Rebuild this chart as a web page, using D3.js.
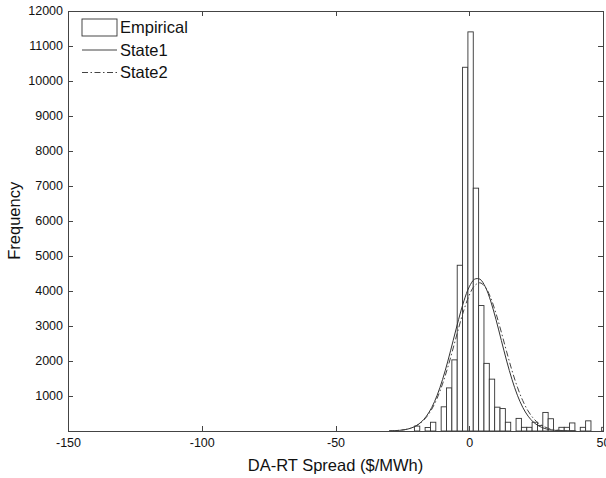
<!DOCTYPE html>
<html>
<head>
<meta charset="utf-8">
<script src="https://cdn.jsdelivr.net/npm/d3@7/dist/d3.min.js"></script>
<style>
  html, body { margin: 0; padding: 0; background: #fff; }
  svg { display: block; font-family: "Liberation Sans", Arial, Helvetica, sans-serif; }
</style>
</head>
<body>
<svg id="chart" width="606" height="478"></svg>
<script>
// ---- data ----
const binWidth = 2;
const binCenters = [-19.5, -17.5, -15.5, -13.5, -11.5, -9.5, -7.5, -5.5, -3.5, -1.5, 0.5, 2.5, 4.5, 6.5, 8.5, 10.5, 12.5, 14.5, 16.5, 18.5, 20.5, 22.5, 24.5, 26.5, 28.5, 30.5, 32.5, 34.5, 36.5, 38.5, 40.5, 42.5, 44.5, 46.5, 48.5, 50.5];
const counts     = [140, 0, 100, 250, 0, 690, 1230, 2030, 4730, 10380, 11390, 6930, 3580, 1930, 1480, 680, 640, 250, 0, 360, 105, 105, 250, 160, 530, 350, 0, 105, 105, 230, 0, 105, 290, 0, 0, 105];

const curveX  = [-30, -28, -26, -24, -22, -20, -18, -16, -14, -12, -10, -8, -6, -4, -2, 0, 2, 4, 6, 8, 10, 12, 14, 16, 18, 20, 22, 24, 26, 28, 30, 32, 34, 36, 38, 40];
const state1Y = [4, 9, 19, 39, 77, 144, 253, 424, 674, 1020, 1465, 1996, 2584, 3179, 3711, 4114, 4332, 4332, 4114, 3711, 3179, 2584, 1996, 1465, 1020, 674, 424, 253, 144, 77, 39, 19, 9, 4, 2, 1];
const state2Y = [4, 9, 20, 40, 76, 138, 240, 397, 624, 937, 1340, 1824, 2368, 2930, 3452, 3876, 4148, 4229, 4108, 3803, 3354, 2819, 2257, 1722, 1252, 867, 572, 360, 216, 123, 67, 35, 17, 8, 4, 2];

const xTicks = [-150, -100, -50, 0, 50];
const xTickLabels = ["-150", "-100", "-50", "0", "50"];
const yTicks = [1000, 2000, 3000, 4000, 5000, 6000, 7000, 8000, 9000, 10000, 11000, 12000];
const legendLabels = ["Empirical", "State1", "State2"];
const xTitle = "DA-RT Spread ($/MWh)";
const yTitle = "Frequency";

// ---- layout ----
const svg = d3.select("#chart");
const L = 68, R = 603, T = 10.5, B = 431;
const x = d3.scaleLinear().domain([-150, 50]).range([L, R]);
const y = d3.scaleLinear().domain([0, 12000]).range([B, T]);
const axisColor = "#444";

svg.append("defs").append("clipPath").attr("id", "plotclip")
  .append("rect").attr("x", L).attr("y", T).attr("width", R - L).attr("height", B - T);

// bars
const plot = svg.append("g").attr("clip-path", "url(#plotclip)");
plot.selectAll("rect.bar").data(binCenters.map((c, i) => ({c, v: counts[i]})))
  .join("rect").attr("class", "bar")
  .attr("x", d => x(d.c - binWidth / 2))
  .attr("width", d => x(d.c + binWidth / 2) - x(d.c - binWidth / 2))
  .attr("y", d => y(d.v))
  .attr("height", d => y(0) - y(d.v))
  .attr("fill", "#fff")
  .attr("stroke", "#333")
  .attr("stroke-width", 0.9);

// curves
const line = d3.line().x(d => x(d[0])).y(d => y(d[1])).curve(d3.curveCatmullRom);
plot.append("path").datum(curveX.map((v, i) => [v, state1Y[i]]))
  .attr("d", line).attr("fill", "none").attr("stroke", "#333").attr("stroke-width", 1);
plot.append("path").datum(curveX.map((v, i) => [v, state2Y[i]]))
  .attr("d", line).attr("fill", "none").attr("stroke", "#444").attr("stroke-width", 1)
  .attr("stroke-dasharray", "6,2.5,1.5,2.5");

// axes
function styleAxis(g) {
  g.selectAll(".domain").attr("stroke", axisColor).attr("shape-rendering", "crispEdges");
  g.selectAll(".tick line").attr("stroke", axisColor).attr("shape-rendering", "crispEdges");
  g.selectAll(".tick text").attr("fill", "#111").attr("font-size", "12.5px")
    .attr("font-family", "Liberation Sans, Arial, sans-serif");
}
const xAxis = d3.axisBottom(x).tickValues(xTicks).tickFormat((d, i) => xTickLabels[i])
  .tickSizeInner(-5).tickSizeOuter(0).tickPadding(7);
svg.append("g").attr("transform", `translate(0,${B})`).call(xAxis).call(styleAxis);

const xAxisTop = d3.axisTop(x).tickValues(xTicks).tickFormat("")
  .tickSizeInner(-5).tickSizeOuter(0);
svg.append("g").attr("transform", `translate(0,${T})`).call(xAxisTop).call(styleAxis);

const yAxis = d3.axisLeft(y).tickValues(yTicks).tickFormat(d3.format("d"))
  .tickSizeInner(-5).tickSizeOuter(0).tickPadding(5);
svg.append("g").attr("transform", `translate(${L},0)`).call(yAxis).call(styleAxis);

const yAxisRight = d3.axisRight(y).tickValues(yTicks).tickFormat("")
  .tickSizeInner(-5).tickSizeOuter(0);
svg.append("g").attr("transform", `translate(${R},0)`).call(yAxisRight).call(styleAxis);

// titles
svg.append("text").attr("x", (L + R) / 2).attr("y", 471)
  .attr("text-anchor", "middle").attr("font-size", "16.5px").attr("fill", "#111")
  .text(xTitle);
svg.append("text").attr("transform", `translate(20,${(T + B) / 2}) rotate(-90)`)
  .attr("text-anchor", "middle").attr("font-size", "16.5px").attr("fill", "#111")
  .text(yTitle);

// legend
const lg = svg.append("g");
const rowY = [27.5, 50, 72.5];
lg.append("rect").attr("x", 82).attr("y", 19).attr("width", 35).attr("height", 17)
  .attr("fill", "#fff").attr("stroke", "#333").attr("stroke-width", 0.9);
lg.append("line").attr("x1", 82).attr("x2", 117).attr("y1", rowY[1]).attr("y2", rowY[1])
  .attr("stroke", "#444").attr("stroke-width", 1);
lg.append("line").attr("x1", 82).attr("x2", 117).attr("y1", rowY[2]).attr("y2", rowY[2])
  .attr("stroke", "#444").attr("stroke-width", 1).attr("stroke-dasharray", "6,2.5,1.5,2.5");
legendLabels.forEach((t, i) => {
  lg.append("text").attr("x", 120).attr("y", rowY[i]).attr("dy", "0.35em")
    .attr("font-size", "16.5px").attr("fill", "#111").text(t);
});
</script>
</body>
</html>
